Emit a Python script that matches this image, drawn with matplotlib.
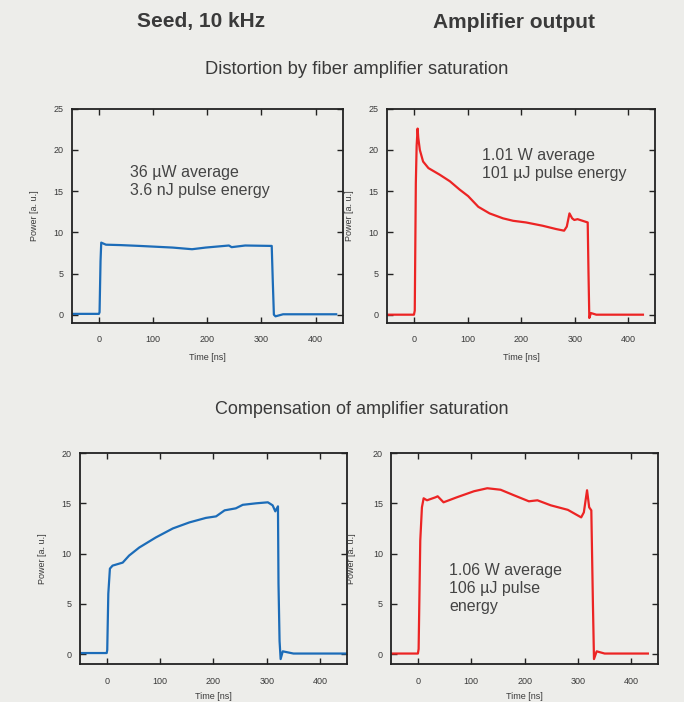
import matplotlib.pyplot as plt

plt.rcParams['font.family'] = ['Liberation Sans', 'DejaVu Sans']

# Seed pulse, uncompensated (ns, a.u.)
seed_t = [-50, 0, 1.2, 3, 4.3, 13, 40, 75, 136, 172, 197, 240, 245, 270, 319, 321, 323, 326, 340, 438]
seed_p = [0.1, 0.1, 0.3, 6.5, 8.75, 8.5, 8.45, 8.35, 8.15, 7.95, 8.15, 8.4, 8.2, 8.4, 8.35, 4.0, 0.0, -0.2, 0.05, 0.05]

# Amplifier output, distorted
amp_t = [-50, 0, 1.5, 3.5, 5, 6.8, 8, 11, 17, 27, 48, 67, 85, 101, 120, 141, 166, 185, 209, 240, 265,
         280, 285, 290, 295, 299, 305, 324, 325.5, 327, 330, 340, 427]
amp_p = [0.0, 0.0, 0.5, 16.0, 20.5, 22.6, 21.5, 20.0, 18.6, 17.8, 17.0, 16.2, 15.2, 14.4, 13.1, 12.3, 11.7,
         11.4, 11.2, 10.8, 10.4, 10.2, 10.7, 12.3, 11.7, 11.5, 11.6, 11.2, 5.0, -0.4, 0.2, 0.0, 0.0]

# Pre-shaped seed pulse
seedc_t = [-50, 0, 1, 3, 6, 11, 30, 42, 61, 92, 124, 155, 186, 205, 221, 242, 255, 280, 302, 311, 316,
           321, 322, 324, 326, 330, 350, 449]
seedc_p = [0.1, 0.1, 0.4, 6.0, 8.5, 8.8, 9.1, 9.8, 10.6, 11.6, 12.5, 13.1, 13.55, 13.7, 14.3, 14.5, 14.85,
           15.0, 15.1, 14.8, 14.2, 14.7, 7.0, 1.3, -0.5, 0.27, 0.05, 0.05]

# Amplifier output, compensated
ampc_t = [-50, 0, 1.3, 4.4, 7.5, 10.7, 17, 33, 37, 48, 73, 105, 130, 155, 180, 208, 224, 249, 281, 306,
          311, 317, 321, 325, 328, 330, 335, 350, 431]
ampc_p = [0.05, 0.05, 0.5, 11.3, 14.6, 15.5, 15.3, 15.6, 15.7, 15.1, 15.6, 16.2, 16.5, 16.35, 15.8, 15.2,
          15.3, 14.8, 14.35, 13.6, 14.1, 16.3, 14.6, 14.3, 5.0, -0.5, 0.27, 0.05, 0.05]

BG = '#ededea'
BLUE = '#1c6cb8'
RED = '#ec2424'
TXT = '#3a3a3a'

fig = plt.figure(figsize=(6.84, 7.02), dpi=100, facecolor=BG)


def make_panel(rect, t, p, color, ytop, ylabel_x, xlabel_y):
    ax = fig.add_axes(rect, facecolor=BG)
    ax.plot(t, p, color=color, linewidth=1.6)
    ax.set_xlim(-50, 450)
    ax.set_ylim(-1.0, ytop)
    ax.set_xticks([0, 100, 200, 300, 400])
    ax.set_yticks(list(range(0, ytop + 1, 5)))
    ax.tick_params(direction='in', length=4, width=1.0, top=True, right=True,
                   labelsize=6.5, colors='#222222', labelcolor=TXT)
    ax.tick_params(axis='x', pad=9)
    ax.tick_params(axis='y', pad=6)
    for s in ax.spines.values():
        s.set_linewidth(1.3)
        s.set_color('#222222')
    ax.set_xlabel('Time [ns]', fontsize=6.5, color=TXT)
    ax.set_ylabel('Power [a. u.]', fontsize=6.5, color=TXT)
    ax.xaxis.set_label_coords(0.5, xlabel_y)
    ax.yaxis.set_label_coords(ylabel_x, 0.5)
    return ax


ax1 = make_panel([0.105, 0.540, 0.396, 0.305], seed_t, seed_p, BLUE, 25, -0.122, -0.14)
ax2 = make_panel([0.566, 0.540, 0.392, 0.305], amp_t, amp_p, RED, 25, -0.123, -0.14)
ax3 = make_panel([0.117, 0.054, 0.390, 0.3006], seedc_t, seedc_p, BLUE, 20, -0.124, -0.13)
ax4 = make_panel([0.572, 0.054, 0.390, 0.3006], ampc_t, ampc_p, RED, 20, -0.131, -0.13)

# annotations
note = dict(fontsize=11.5, color='#444444', va='center', linespacing=1.25)
ax1.text(0.215, 0.661, '36 µW average\n3.6 nJ pulse energy', transform=ax1.transAxes, **note)
ax2.text(0.354, 0.738, '1.01 W average\n101 µJ pulse energy', transform=ax2.transAxes, **note)
ax4.text(0.217, 0.36, '1.06 W average\n106 µJ pulse\nenergy', transform=ax4.transAxes, **note)

# headings
fig.text(201 / 684, 1 - 22 / 702, 'Seed, 10 kHz', fontsize=15, fontweight='bold',
         color=TXT, ha='center', va='center')
fig.text(514 / 684, 1 - 22 / 702, 'Amplifier output', fontsize=15, fontweight='bold',
         color=TXT, ha='center', va='center')
fig.text(357 / 684, 1 - 70 / 702, 'Distortion by fiber amplifier saturation', fontsize=13.2,
         color=TXT, ha='center', va='center')
fig.text(362 / 684, 1 - 410 / 702, 'Compensation of amplifier saturation', fontsize=13,
         color=TXT, ha='center', va='center')

fig.savefig('out.png', dpi=100, facecolor=BG)
